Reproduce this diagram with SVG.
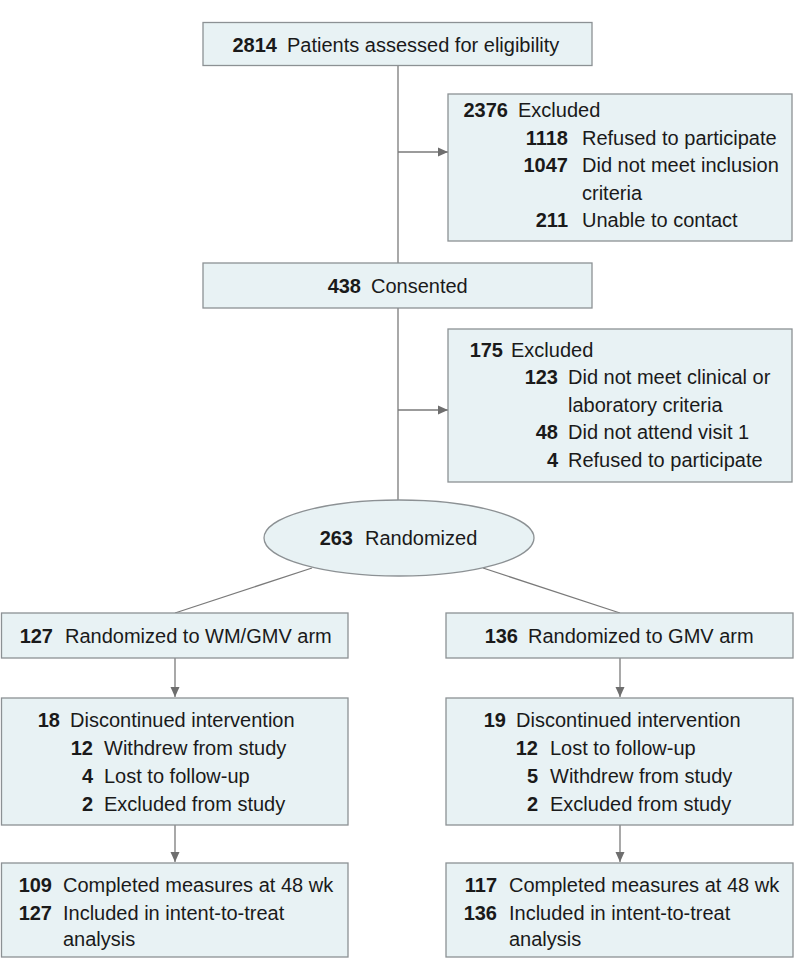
<svg xmlns="http://www.w3.org/2000/svg" width="798" height="977" viewBox="0 0 798 977">
<style>
.box{fill:#e8f2f4;stroke:#8c9194;stroke-width:1.3}
.ln{stroke:#7a7a7a;stroke-width:1.3;fill:none}
text{font-family:"Liberation Sans",Arial,sans-serif;font-size:20px;fill:#1a1a1a}
.n{font-weight:bold;text-anchor:end}
</style>
<defs>
<marker id="ah" viewBox="0 0 10 10" refX="10" refY="5" markerWidth="10" markerHeight="10" markerUnits="userSpaceOnUse" orient="auto">
<path d="M0,0.5 L10,5 L0,9.5 z" fill="#6e6e6e"/>
</marker>
</defs>
<rect width="798" height="977" fill="#ffffff"/>
<g id="connectors">
<line class="ln" x1="398" y1="65" x2="398" y2="502"/>
<line class="ln" x1="398" y1="152" x2="448" y2="152" marker-end="url(#ah)"/>
<line class="ln" x1="398" y1="410" x2="448" y2="410" marker-end="url(#ah)"/>
<line class="ln" x1="312" y1="568" x2="175" y2="613"/>
<line class="ln" x1="483" y1="568" x2="620" y2="613"/>
<line class="ln" x1="175" y1="658" x2="175" y2="697" marker-end="url(#ah)"/>
<line class="ln" x1="175" y1="825" x2="175" y2="862" marker-end="url(#ah)"/>
<line class="ln" x1="620" y1="658" x2="620" y2="697" marker-end="url(#ah)"/>
<line class="ln" x1="620" y1="825" x2="620" y2="862" marker-end="url(#ah)"/>
</g>
<g id="assessed">
<rect class="box" x="203" y="22.5" width="389" height="43"/>
<text class="n" x="277" y="52">2814</text>
<text x="287" y="52">Patients assessed for eligibility</text>
</g>
<g id="excluded1">
<rect class="box" x="448" y="94" width="344" height="147"/>
<text class="n" x="508" y="117">2376</text>
<text x="518" y="117">Excluded</text>
<text class="n" x="568" y="144.5">1118</text>
<text x="582" y="144.5">Refused to participate</text>
<text class="n" x="568" y="172">1047</text>
<text x="582" y="172">Did not meet inclusion</text>
<text x="582" y="199.5">criteria</text>
<text class="n" x="568" y="227">211</text>
<text x="582" y="227">Unable to contact</text>
</g>
<g id="consented">
<rect class="box" x="203" y="263" width="389" height="45"/>
<text class="n" x="361" y="293">438</text>
<text x="371" y="293">Consented</text>
</g>
<g id="excluded2">
<rect class="box" x="448" y="329" width="344" height="153"/>
<text class="n" x="503" y="356.5">175</text>
<text x="511" y="356.5">Excluded</text>
<text class="n" x="558" y="384">123</text>
<text x="568" y="384">Did not meet clinical or</text>
<text x="568" y="411.5">laboratory criteria</text>
<text class="n" x="558" y="439">48</text>
<text x="568" y="439">Did not attend visit 1</text>
<text class="n" x="558" y="466.5">4</text>
<text x="568" y="466.5">Refused to participate</text>
</g>
<g id="randomized">
<ellipse class="box" cx="399" cy="538" rx="135" ry="38"/>
<text class="n" x="353" y="545">263</text>
<text x="365" y="545">Randomized</text>
</g>
<g id="arm-wm">
<rect class="box" x="1.5" y="613" width="346.5" height="45"/>
<text class="n" x="53" y="643">127</text>
<text x="65" y="643">Randomized to WM/GMV arm</text>
</g>
<g id="arm-gmv">
<rect class="box" x="446" y="613" width="347" height="45"/>
<text class="n" x="518" y="643">136</text>
<text x="528" y="643">Randomized to GMV arm</text>
</g>
<g id="disc-wm">
<rect class="box" x="1.5" y="698" width="346.5" height="127"/>
<text class="n" x="60" y="727">18</text>
<text x="70" y="727">Discontinued intervention</text>
<text class="n" x="93" y="755">12</text>
<text x="104" y="755">Withdrew from study</text>
<text class="n" x="93" y="783">4</text>
<text x="104" y="783">Lost to follow-up</text>
<text class="n" x="93" y="810.5">2</text>
<text x="104" y="810.5">Excluded from study</text>
</g>
<g id="disc-gmv">
<rect class="box" x="446" y="698" width="347" height="127"/>
<text class="n" x="506" y="727">19</text>
<text x="516" y="727">Discontinued intervention</text>
<text class="n" x="538" y="755">12</text>
<text x="550" y="755">Lost to follow-up</text>
<text class="n" x="538" y="783">5</text>
<text x="550" y="783">Withdrew from study</text>
<text class="n" x="538" y="810.5">2</text>
<text x="550" y="810.5">Excluded from study</text>
</g>
<g id="final-wm">
<rect class="box" x="1.5" y="863" width="346.5" height="94"/>
<text class="n" x="52" y="892">109</text>
<text x="63" y="892">Completed measures at 48 wk</text>
<text class="n" x="52" y="919.5">127</text>
<text x="63" y="919.5">Included in intent-to-treat</text>
<text x="63" y="946">analysis</text>
</g>
<g id="final-gmv">
<rect class="box" x="446" y="863" width="347" height="94"/>
<text class="n" x="497" y="892">117</text>
<text x="509" y="892">Completed measures at 48 wk</text>
<text class="n" x="497" y="919.5">136</text>
<text x="509" y="919.5">Included in intent-to-treat</text>
<text x="509" y="946">analysis</text>
</g>
</svg>
